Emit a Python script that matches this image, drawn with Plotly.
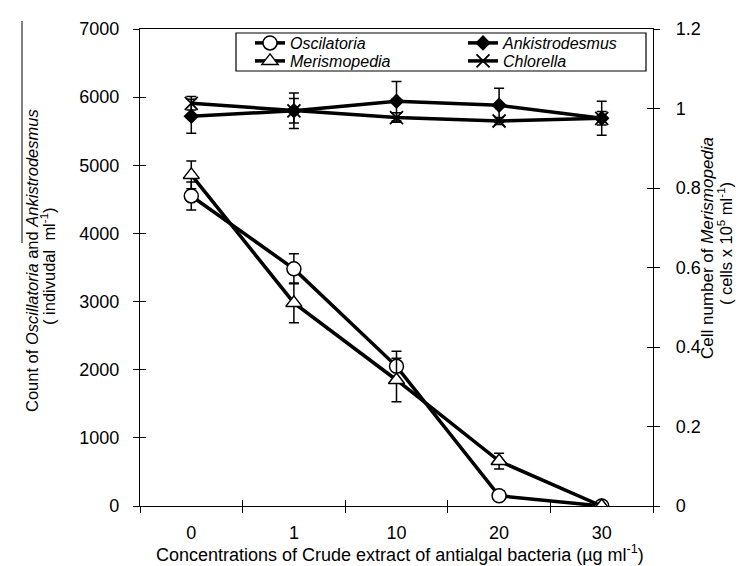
import plotly.graph_objects as go

# ---- data ----
concentrations = ["0", "1", "10", "20", "30"]
oscillatoria = [4550, 3480, 2050, 150, 0]
oscillatoria_err = [205, 220, 220, 0, 0]
ankistrodesmus = [5720, 5800, 5940, 5880, 5690]
ankistrodesmus_err = [250, 260, 290, 250, 250]
chlorella = [5910, 5800, 5700, 5650, 5690]
chlorella_err = [100, 180, 70, 50, 100]
merismopedia = [0.833, 0.511, 0.317, 0.113, 0.0]
merismopedia_err = [0.035, 0.05, 0.055, 0.02, 0.0]

left_ticks = [0, 1000, 2000, 3000, 4000, 5000, 6000, 7000]
right_ticks = [0, 0.2, 0.4, 0.6, 0.8, 1.0, 1.2]
category_boundaries = [0.5, 1.5, 2.5, 3.5]

FONT = "Liberation Sans, Arial, sans-serif"
W, H = 752, 566
X0, X1, Y0, Y1 = 132, 645, 21, 498


def px(x):
    return (x - X0) / (X1 - X0)


def py(y):
    return (Y1 - y) / (Y1 - Y0)


def eb(arr):
    return dict(type="data", array=arr, color="black", thickness=1.5, width=5, visible=True)


fig = go.Figure()
fig.add_trace(go.Scatter(
    x=concentrations, y=oscillatoria, name="<i>Oscilatoria</i>", mode="lines+markers",
    legend="legend",
    line=dict(color="black", width=3.5),
    marker=dict(symbol="circle", size=14, color="white", line=dict(color="black", width=1.5)),
    error_y=eb(oscillatoria_err),
))
fig.add_trace(go.Scatter(
    x=concentrations, y=ankistrodesmus, name="<i>Ankistrodesmus</i>", mode="lines+markers",
    legend="legend",
    line=dict(color="black", width=3.5),
    marker=dict(symbol="diamond", size=12, color="black"),
    error_y=eb(ankistrodesmus_err),
))
fig.add_trace(go.Scatter(
    x=concentrations, y=merismopedia, name="<i>Merismopedia</i>", mode="lines+markers",
    yaxis="y2", legend="legend2",
    line=dict(color="black", width=3.5),
    marker=dict(symbol="triangle-up", size=14, color="white", line=dict(color="black", width=1.5)),
    error_y=eb(merismopedia_err),
))
fig.add_trace(go.Scatter(
    x=concentrations, y=chlorella, name="<i>Chlorella</i>", mode="lines+markers",
    legend="legend2",
    line=dict(color="black", width=3.5),
    marker=dict(symbol="x-thin", size=13, color="black", line=dict(color="black", width=1.8)),
    error_y=eb(chlorella_err),
))
# empty helper traces so the tick-only overlay axes (inner half of crossing ticks) are drawn
for xa, ya in [("x2", "y"), ("x", "y3"), ("x", "y4")]:
    fig.add_trace(go.Scatter(x=[], y=[], xaxis=xa, yaxis=ya, showlegend=False,
                             hoverinfo="skip", mode="markers"))

axis_common = dict(
    showgrid=False, zeroline=False, showline=True, linecolor="black", linewidth=1.2,
    ticks="outside", ticklen=6, tickcolor="black", tickwidth=1.2,
    tickfont=dict(family=FONT, size=18, color="black"),
)
inner_ticks = dict(
    showgrid=False, zeroline=False, showline=False, showticklabels=False,
    ticks="inside", ticklen=6, tickcolor="black", tickwidth=1.2,
)

legend_common = dict(
    orientation="h", x=px(242), xanchor="left", yanchor="middle",
    entrywidth=168, entrywidthmode="pixels",
    bgcolor="rgba(0,0,0,0)", borderwidth=0,
    font=dict(family=FONT, size=16, color="black"),
    itemwidth=30,
)

fig.update_layout(
    width=W, height=H,
    margin=dict(l=X0, r=W - X1, t=Y0, b=H - Y1, pad=0),
    paper_bgcolor="white", plot_bgcolor="white",
    font=dict(family=FONT, size=16, color="black"),
    xaxis=dict(type="category", range=[-0.5, 4.5], tickson="boundaries", mirror=True,
               ticklabelstandoff=10, **axis_common),
    xaxis2=dict(overlaying="x", anchor="y", side="bottom", range=[-0.5, 4.5],
                tickvals=category_boundaries, **inner_ticks),
    yaxis=dict(range=[0, 7000], tickvals=left_ticks, ticklabelstandoff=10, **axis_common),
    yaxis2=dict(range=[0, 1.2], tickvals=right_ticks, overlaying="y", side="right",
                ticklabelstandoff=12, **axis_common),
    yaxis3=dict(range=[0, 7000], tickvals=left_ticks, overlaying="y", side="left",
                anchor="x", **inner_ticks),
    yaxis4=dict(range=[0, 1.2], tickvals=right_ticks, overlaying="y", side="right",
                anchor="x", **inner_ticks),
    showlegend=True,
    legend=dict(y=py(35), **legend_common),
    legend2=dict(y=py(53), **legend_common),
    shapes=[
        dict(type="rect", xref="paper", yref="paper", x0=px(228), x1=px(638), y0=py(63), y1=py(25),
             line=dict(color="black", width=1.2), fillcolor="rgba(0,0,0,0)"),
        dict(type="line", xref="paper", yref="paper", x0=px(14), x1=px(14), y0=py(13), y1=py(235),
             line=dict(color="black", width=1)),
    ],
    annotations=[
        dict(text="Concentrations of Crude extract of antialgal bacteria (µg ml<sup>-1</sup>)",
             xref="paper", yref="paper", x=px(392), y=py(545), showarrow=False,
             xanchor="center", yanchor="middle", font=dict(family=FONT, size=18)),
        dict(text="Count of <i>Oscillatoria</i> and <i>Ankistrodesmus</i>",
             xref="paper", yref="paper", x=px(24), y=py(253), showarrow=False, textangle=-90,
             xanchor="center", yanchor="middle", font=dict(family=FONT, size=16.5)),
        dict(text="( indivudal  ml<sup>-1</sup>)",
             xref="paper", yref="paper", x=px(40), y=py(258), showarrow=False, textangle=-90,
             xanchor="center", yanchor="middle", font=dict(family=FONT, size=16.5)),
        dict(text="Cell number of <i>Merismopedia</i>",
             xref="paper", yref="paper", x=px(699), y=py(240), showarrow=False, textangle=-90,
             xanchor="center", yanchor="middle", font=dict(family=FONT, size=17)),
        dict(text="( cells x 10<sup>5</sup> ml<sup>-1</sup>)",
             xref="paper", yref="paper", x=px(717), y=py(236), showarrow=False, textangle=-90,
             xanchor="center", yanchor="middle", font=dict(family=FONT, size=16.5)),
    ],
)

fig.write_html("out.html")
